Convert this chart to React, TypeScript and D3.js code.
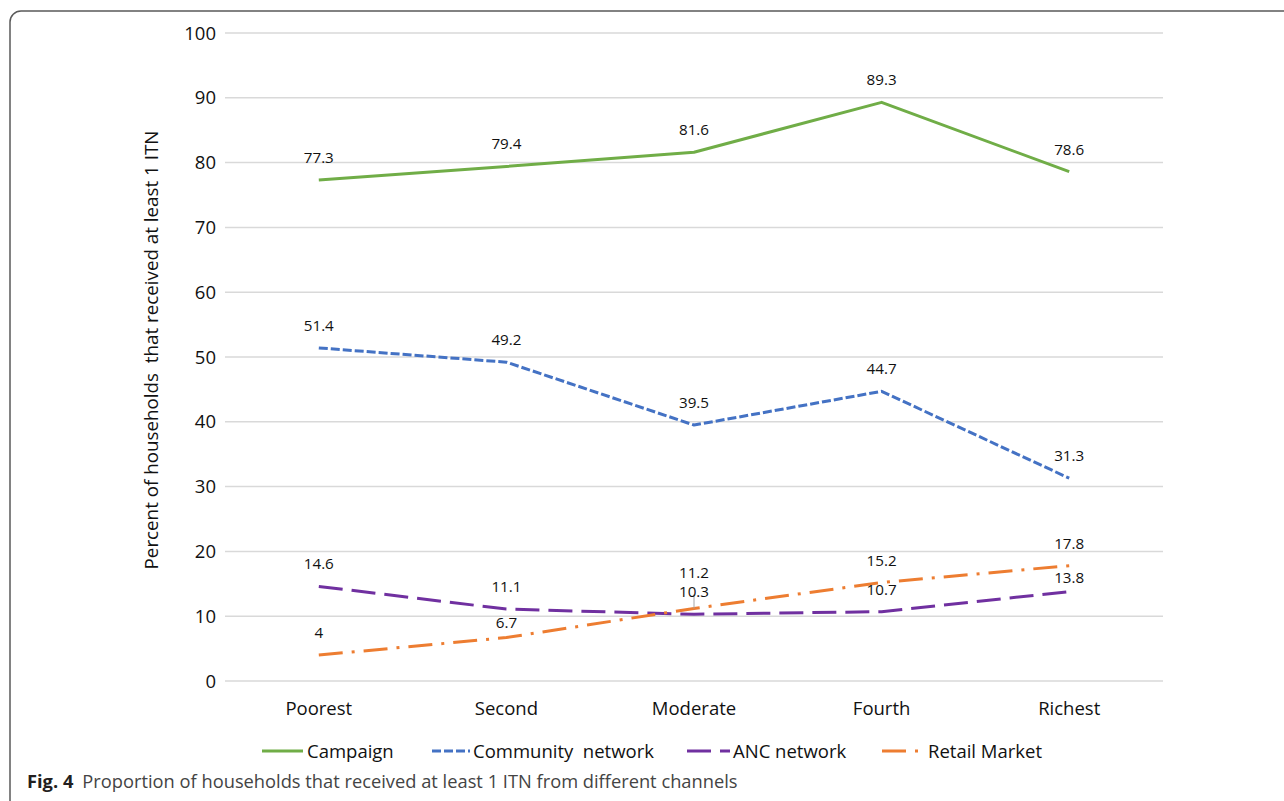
import React from "react";
import * as d3 from "d3";

// Wealth quintiles along the x axis
const categories = ["Poorest", "Second", "Moderate", "Fourth", "Richest"];

// Percent of households receiving at least one ITN, by channel
const campaign = [77.3, 79.4, 81.6, 89.3, 78.6];
const communityNetwork = [51.4, 49.2, 39.5, 44.7, 31.3];
const ancNetwork = [14.6, 11.1, 10.3, 10.7, 13.8];
const retailMarket = [4, 6.7, 11.2, 15.2, 17.8];

const yTicks = [0, 10, 20, 30, 40, 50, 60, 70, 80, 90, 100];

const seriesNames = ["Campaign", "Community  network", "ANC network", "Retail Market"];

const W = 1284;
const H = 801;
const FONT = "'Open Sans', 'Noto Sans', sans-serif";

type Series = {
  name: string;
  values: number[];
  color: string;
  dash: string | null;
  labelDy: number[];
  leader: boolean[];
};

const series: Series[] = [
  {
    name: seriesNames[0],
    values: campaign,
    color: "#70AD47",
    dash: null,
    labelDy: [-17, -17, -17, -17, -17],
    leader: [false, false, false, false, false],
  },
  {
    name: seriesNames[1],
    values: communityNetwork,
    color: "#4472C4",
    dash: "9,3",
    labelDy: [-17, -17, -17, -17, -17],
    leader: [false, false, false, false, false],
  },
  {
    name: seriesNames[2],
    values: ancNetwork,
    color: "#7030A0",
    dash: "24,9",
    labelDy: [-17, -17, -17, -17, -9],
    leader: [false, false, false, false, false],
  },
  {
    name: seriesNames[3],
    values: retailMarket,
    color: "#ED7D31",
    dash: "24,9,3,9",
    labelDy: [-17, -10, -30, -17, -17],
    leader: [false, false, true, false, false],
  },
];

export default function App() {
  const x = d3
    .scaleBand<string>()
    .domain(categories)
    .range([225, 1163]);
  const cx = (c: string) => (x(c) as number) + x.bandwidth() / 2;
  const y = d3.scaleLinear().domain([0, 100]).range([681, 33]);

  const line = d3
    .line<number>()
    .x((_, i) => cx(categories[i]))
    .y((v) => y(v));

  // legend entries: sample line start, sample length, text start
  const legendItems = [
    { x0: 262, len: 41, tx: 307 },
    { x0: 432, len: 38, tx: 473 },
    { x0: 687, len: 43, tx: 733 },
    { x0: 882, len: 36, tx: 928 },
  ];

  return (
    <svg
      width={W}
      height={H}
      style={{ position: "absolute", left: 0, top: 0, background: "#fff" }}
      fontFamily={FONT}
    >
      <rect x={0} y={0} width={W} height={H} fill="#fff" />
      {/* figure frame */}
      <rect
        x={10}
        y={11}
        width={1320}
        height={800}
        rx={11}
        fill="none"
        stroke="#5a5a5a"
        strokeWidth={1.5}
      />

      {/* gridlines and y tick labels */}
      {yTicks.map((t) => (
        <g key={t}>
          <line
            x1={x.range()[0]}
            x2={x.range()[1]}
            y1={y(t)}
            y2={y(t)}
            stroke="#d9d9d9"
            strokeWidth={1.5}
          />
          <text
            x={216}
            y={y(t)}
            dy="0.36em"
            textAnchor="end"
            fontSize={18.5}
            fill="#111"
          >
            {t}
          </text>
        </g>
      ))}

      {/* category labels */}
      {categories.map((c) => (
        <text
          key={c}
          x={cx(c)}
          y={715}
          textAnchor="middle"
          fontSize={18.5}
          fill="#111"
        >
          {c}
        </text>
      ))}

      {/* y axis title */}
      <text
        transform={`translate(158, 350) rotate(-90)`}
        textAnchor="middle"
        fontSize={18.8}
        fill="#111"
        style={{ whiteSpace: "pre" }}
      >
        {"Percent of households  that received at least 1 ITN"}
      </text>

      {/* series lines */}
      {series.map((s) => (
        <path
          key={s.name}
          d={line(s.values) || ""}
          fill="none"
          stroke={s.color}
          strokeWidth={3}
          strokeDasharray={s.dash || undefined}
          strokeLinejoin="round"
        />
      ))}

      {/* leader lines for moved labels */}
      {series.map((s) =>
        s.values.map((v, i) =>
          s.leader[i] ? (
            <line
              key={`ld-${s.name}-${i}`}
              x1={cx(categories[i])}
              x2={cx(categories[i])}
              y1={y(v)}
              y2={y(v) + s.labelDy[i] + 16}
              stroke="#a6a6a6"
              strokeWidth={1}
            />
          ) : null
        )
      )}

      {/* data labels */}
      {series.map((s) =>
        s.values.map((v, i) => (
          <text
            key={`lb-${s.name}-${i}`}
            x={cx(categories[i])}
            y={y(v) + s.labelDy[i]}
            textAnchor="middle"
            fontSize={15.2}
            fill="#111"
          >
            {v}
          </text>
        ))
      )}

      {/* legend */}
      {series.map((s, i) => {
        const it = legendItems[i];
        return (
          <g key={`lg-${s.name}`}>
            <line
              x1={it.x0}
              x2={it.x0 + it.len}
              y1={751}
              y2={751}
              stroke={s.color}
              strokeWidth={3}
              strokeDasharray={s.dash || undefined}
            />
            <text
              x={it.tx}
              y={758}
              fontSize={18.5}
              fill="#111"
              style={{ whiteSpace: "pre" }}
            >
              {s.name}
            </text>
          </g>
        );
      })}

      {/* caption */}
      <text x={27} y={788} fontSize={18.3} fill="#333">
        <tspan fontWeight="bold" fill="#231f20">
          Fig. 4
        </tspan>
        <tspan dx={9} fill="#444">
          Proportion of households that received at least 1 ITN from different channels
        </tspan>
      </text>
    </svg>
  );
}
